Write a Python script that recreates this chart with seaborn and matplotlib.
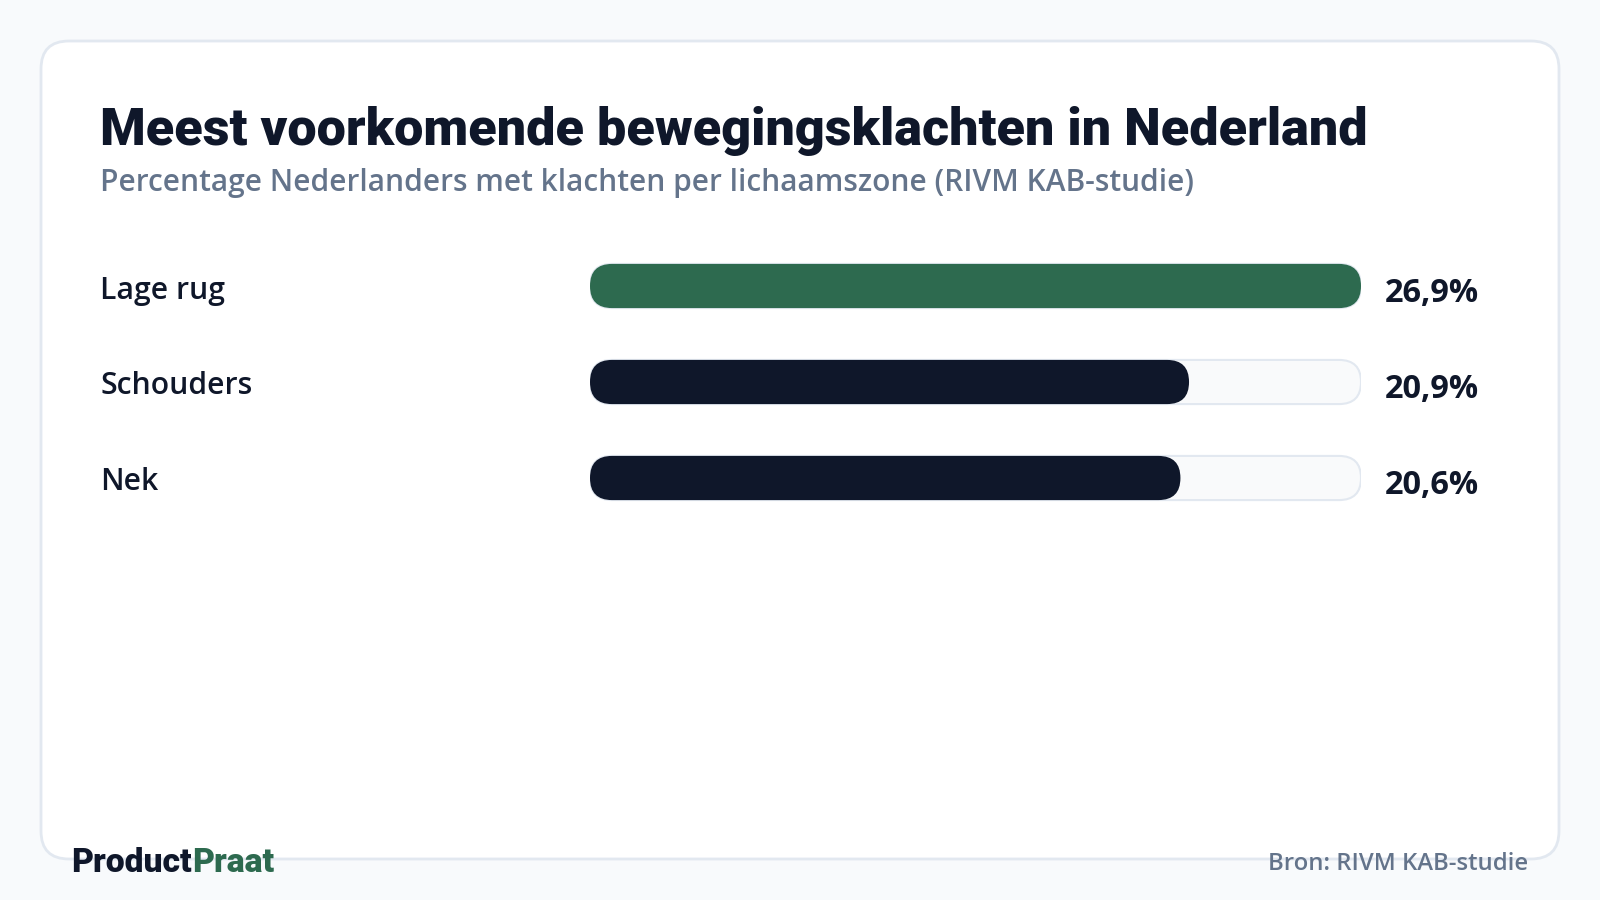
import matplotlib
matplotlib.use("Agg")
import matplotlib.pyplot as plt
import seaborn as sns
import pandas as pd
from matplotlib.patches import FancyBboxPatch
from matplotlib import transforms

# ---- data ----
categories = ["Lage rug", "Schouders", "Nek"]
values = [26.9, 20.9, 20.6]
value_labels = ["26,9%", "20,9%", "20,6%"]
title = "Meest voorkomende bewegingsklachten in Nederland"
subtitle = "Percentage Nederlanders met klachten per lichaamszone (RIVM KAB-studie)"
source = "Bron: RIVM KAB-studie"
brand_a, brand_b = "Product", "Praat"

# ---- styles ----
BG = "#f8fafc"
CARD_EDGE = "#e2e8f0"
DARK = "#0f172a"
GREEN = "#2d6a4f"
MUTED = "#64748b"
TRACK = "#f8fafc"

sns.set_theme(style="white")
plt.rcParams["font.family"] = ["Open Sans", "DejaVu Sans"]

W, H = 1600, 900
fig = plt.figure(figsize=(16, 9), dpi=100, facecolor=BG)

# background / card axes in pixel coordinates
bg = fig.add_axes([0, 0, 1, 1])
bg.set_xlim(0, W)
bg.set_ylim(H, 0)
bg.axis("off")
card = FancyBboxPatch((41, 41), 1518, 818,
                      boxstyle="round,pad=0,rounding_size=28",
                      facecolor="white", edgecolor=CARD_EDGE, linewidth=2)
bg.add_patch(card)

bg.text(100, 145, title, fontsize=37.5, fontweight="black", family=["Roboto", "DejaVu Sans"],
        color=DARK, va="baseline", ha="left")
bg.text(100, 191, subtitle, fontsize=21.5, fontweight="semibold", color=MUTED,
        va="baseline", ha="left")

# ---- bar axes ----
x0, x1 = 590, 1361
ytop, ybot = 238, 526
ax = fig.add_axes([x0 / W, 1 - ybot / H, (x1 - x0) / W, (ybot - ytop) / H])
ax.set_facecolor("none")

vmax = max(values)
df = pd.DataFrame({"cat": categories, "val": values, "track": [vmax] * len(values)})
bar_w = 0.46
sns.barplot(data=df, y="cat", x="track", orient="h", color=TRACK, width=bar_w, ax=ax)
n_track = len(ax.patches)
sns.barplot(data=df, y="cat", x="val", orient="h", hue="cat",
            palette=[GREEN, DARK, DARK], width=bar_w, ax=ax, legend=False,
            saturation=1)
ax.set_xlim(0, vmax)
ax.set_ylim(len(categories) - 0.5, -0.5)
ax.axis("off")

# replace rectangles with rounded boxes
px_per_x = (x1 - x0) / vmax
px_per_y = (ybot - ytop) / len(categories)
aspect = (1 / px_per_y) / (1 / px_per_x)
radius = 22 / px_per_x
rects = list(ax.patches)
for k, r in enumerate(rects):
    bx, by, bw, bh = r.get_x(), r.get_y(), r.get_width(), r.get_height()
    fc = r.get_facecolor()
    is_track = k < n_track
    r.remove()
    p = FancyBboxPatch((bx, by), bw, bh,
                       boxstyle=f"round,pad=0,rounding_size={radius}",
                       mutation_aspect=aspect,
                       facecolor=fc,
                       edgecolor=CARD_EDGE if is_track else "none",
                       linewidth=1.5 if is_track else 0,
                       zorder=1 if is_track else 2)
    ax.add_patch(p)

# category labels (figure-x, data-y)
lab_tr = transforms.blended_transform_factory(fig.transFigure, ax.transData)
lab_tr = transforms.offset_copy(lab_tr, fig=fig, x=0, y=-12.5, units="dots")
for i, c in enumerate(categories):
    ax.text(100 / W, i, c, transform=lab_tr, fontsize=21.7, fontweight="semibold",
            color=DARK, ha="left", va="baseline")

# value labels
val_tr = transforms.offset_copy(ax.transData, fig=fig, x=24, y=-15.5, units="dots")
for i, t in enumerate(value_labels):
    ax.text(vmax, i, t, transform=val_tr, fontsize=23.4, fontweight="bold",
            color=DARK, ha="left", va="baseline", clip_on=False)

# footer
t1 = bg.text(71, 872, brand_a, fontsize=24.2, fontweight="black",
             family=["Roboto", "DejaVu Sans"], color=DARK, va="baseline", ha="left")
fig.canvas.draw()
ext = t1.get_window_extent(renderer=fig.canvas.get_renderer())
x_end = bg.transData.inverted().transform((ext.x1, ext.y0))[0]
bg.text(x_end, 872, brand_b, fontsize=24.2, fontweight="black",
        family=["Roboto", "DejaVu Sans"], color=GREEN, va="baseline", ha="left")
bg.text(1528, 870, source, fontsize=17.2, fontweight="semibold", color=MUTED,
        va="baseline", ha="right")

fig.savefig("out.png", dpi=100, facecolor=BG)
